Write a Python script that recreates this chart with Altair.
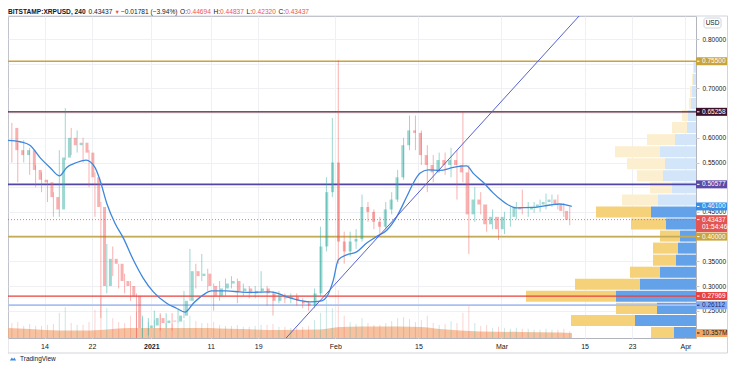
import altair as alt
import pandas as pd

FONT = "Liberation Sans"
W, H = 688, 322
Y_MIN, Y_MAX = 0.19474, 0.84656
PX = H / (Y_MAX - Y_MIN)          # pixels per price unit
VOL_MAX = 665.0                   # volume scale top (M)
X_DOMAIN = [alt.DateTime(year=2020, month=12, date=7, hours=20, minutes=24),
            alt.DateTime(year=2021, month=4, date=2, hours=18, minutes=32)]
AX = 31                           # width of the price-scale column

# ---------------- data ----------------
first_open = 0.62
closes = [0.575, 0.565, 0.575, 0.535, 0.515, 0.51, 0.48, 0.455, 0.56, 0.60,
          0.585, 0.59, 0.57, 0.52, 0.46, 0.30, 0.355, 0.345, 0.31, 0.30,
          0.28, 0.215, 0.215, 0.22, 0.235, 0.225, 0.23, 0.228, 0.24, 0.27,
          0.33, 0.32, 0.325, 0.30, 0.28, 0.295, 0.305, 0.31, 0.29, 0.295,
          0.285, 0.29, 0.295, 0.285, 0.27, 0.28, 0.275, 0.278, 0.27, 0.265,
          0.26, 0.285, 0.38, 0.49, 0.55, 0.39, 0.37, 0.39, 0.395, 0.46,
          0.45, 0.43, 0.42, 0.455, 0.475, 0.52, 0.585, 0.615, 0.61, 0.565,
          0.545, 0.53, 0.555, 0.545, 0.555, 0.545, 0.53, 0.445, 0.475, 0.465,
          0.425, 0.44, 0.415, 0.44, 0.44, 0.46, 0.455, 0.455, 0.46, 0.465,
          0.47, 0.475, 0.465, 0.452, 0.434]
highs = [0.63, 0.59, 0.595, 0.58, 0.545, 0.53, 0.515, 0.49, 0.575, 0.66,
         0.62, 0.615, 0.60, 0.575, 0.53, 0.47, 0.385, 0.38, 0.34, 0.325,
         0.31, 0.285, 0.24, 0.235, 0.25, 0.245, 0.245, 0.245, 0.255, 0.29,
         0.375, 0.345, 0.365, 0.335, 0.305, 0.31, 0.315, 0.32, 0.315, 0.305,
         0.30, 0.30, 0.33, 0.30, 0.29, 0.29, 0.285, 0.285, 0.285, 0.275,
         0.27, 0.295, 0.42, 0.52, 0.64, 0.757, 0.41, 0.41, 0.415, 0.485,
         0.47, 0.455, 0.44, 0.47, 0.49, 0.535, 0.60, 0.645, 0.645, 0.615,
         0.585, 0.565, 0.57, 0.57, 0.58, 0.575, 0.652, 0.545, 0.50, 0.49,
         0.465, 0.455, 0.44, 0.45, 0.46, 0.47, 0.495, 0.47, 0.47, 0.475,
         0.487, 0.485, 0.485, 0.468, 0.46]
lows = [0.55, 0.51, 0.55, 0.525, 0.50, 0.49, 0.47, 0.44, 0.44, 0.555,
        0.565, 0.57, 0.55, 0.50, 0.44, 0.235, 0.285, 0.32, 0.295, 0.285,
        0.27, 0.18, 0.195, 0.20, 0.215, 0.21, 0.215, 0.21, 0.225, 0.235,
        0.27, 0.295, 0.31, 0.29, 0.25, 0.27, 0.28, 0.295, 0.265, 0.28,
        0.275, 0.275, 0.285, 0.26, 0.24, 0.265, 0.265, 0.265, 0.26, 0.255,
        0.25, 0.255, 0.28, 0.37, 0.48, 0.345, 0.345, 0.36, 0.375, 0.39,
        0.43, 0.415, 0.40, 0.415, 0.445, 0.47, 0.515, 0.575, 0.575, 0.545,
        0.49, 0.51, 0.53, 0.525, 0.52, 0.475, 0.51, 0.365, 0.43, 0.445,
        0.41, 0.415, 0.393, 0.405, 0.42, 0.435, 0.445, 0.44, 0.448, 0.45,
        0.455, 0.46, 0.455, 0.44, 0.423]
volumes = [31, 33, 25, 29, 25, 25, 27, 29, 52, 64,
           31, 27, 27, 33, 58, 83, 62, 41, 33, 31,
           46, 54, 41, 33, 37, 48, 31, 29, 31, 37,
           46, 35, 31, 31, 33, 27, 25, 25, 27, 23,
           23, 25, 27, 27, 29, 23, 23, 21, 21, 23,
           25, 37, 52, 79, 62, 99, 46, 33, 29, 41,
           31, 27, 27, 31, 35, 41, 43, 39, 33, 37,
           46, 31, 27, 29, 35, 31, 52, 68, 31, 25,
           27, 21, 23, 21, 19, 21, 19, 19, 17, 17,
           19, 17, 17, 19, 14]

ma_dates = ["2020-12-07T20:00:00", "2020-12-09T21:00:00", "2020-12-11T13:00:00", "2020-12-13T06:00:00",
            "2020-12-14T22:00:00", "2020-12-16T12:00:00", "2020-12-17T18:00:00", "2020-12-19T10:00:00",
            "2020-12-21T00:00:00", "2020-12-22T12:00:00", "2020-12-23T08:00:00", "2020-12-24T12:00:00",
            "2020-12-25T21:00:00", "2020-12-27T07:00:00", "2020-12-28T23:00:00", "2020-12-30T15:00:00",
            "2021-01-01T08:00:00", "2021-01-03T14:00:00", "2021-01-05T06:00:00", "2021-01-06T16:00:00",
            "2021-01-08T02:00:00", "2021-01-09T18:00:00", "2021-01-11T04:00:00", "2021-01-13T17:00:00",
            "2021-01-15T22:00:00", "2021-01-17T15:00:00", "2021-01-21T00:00:00", "2021-01-24T09:00:00",
            "2021-01-27T18:00:00", "2021-01-29T17:00:00", "2021-01-30T13:00:00", "2021-01-31T16:00:00",
            "2021-02-01T12:00:00", "2021-02-02T22:00:00", "2021-02-04T14:00:00", "2021-02-06T07:00:00",
            "2021-02-07T23:00:00", "2021-02-09T16:00:00", "2021-02-11T08:00:00", "2021-02-13T00:00:00",
            "2021-02-14T03:00:00", "2021-02-15T06:00:00", "2021-02-16T16:00:00", "2021-02-18T15:00:00",
            "2021-02-20T21:00:00", "2021-02-23T03:00:00", "2021-02-24T06:00:00", "2021-02-25T22:00:00",
            "2021-02-27T15:00:00", "2021-02-28T18:00:00", "2021-03-01T21:00:00", "2021-03-03T13:00:00",
            "2021-03-06T08:00:00", "2021-03-09T04:00:00", "2021-03-10T20:00:00", "2021-03-12T20:00:00"]
ma_values = [0.595, 0.592, 0.585, 0.560, 0.540, 0.523, 0.540, 0.550,
             0.555, 0.540, 0.515, 0.467, 0.427, 0.397, 0.353, 0.316,
             0.288, 0.265, 0.255, 0.247, 0.265, 0.282, 0.290, 0.290,
             0.288, 0.287, 0.288, 0.276, 0.268, 0.270, 0.278, 0.312,
             0.353, 0.363, 0.369, 0.387, 0.400, 0.413, 0.440, 0.480,
             0.508, 0.528, 0.535, 0.534, 0.540, 0.543, 0.528, 0.510,
             0.488, 0.476, 0.466, 0.458, 0.459, 0.464, 0.466, 0.461]

volma_dates = ["2020-12-07T20:00:00", "2020-12-11T13:00:00", "2020-12-16T15:00:00", "2020-12-21T16:00:00",
               "2020-12-23T08:00:00", "2020-12-28T10:00:00", "2021-01-04T03:00:00", "2021-01-09T05:00:00",
               "2021-01-15T22:00:00", "2021-01-22T16:00:00", "2021-01-29T10:00:00", "2021-02-01T19:00:00",
               "2021-02-08T13:00:00", "2021-02-15T06:00:00", "2021-02-18T15:00:00", "2021-02-25T09:00:00",
               "2021-03-04T03:00:00", "2021-03-10T20:00:00", "2021-03-12T21:00:00"]
volma_values = [20.7, 18.6, 15.5, 15.5, 16.6, 20.7, 20.7, 20.7, 18.6, 16.6,
                17.6, 22.8, 23.8, 22.8, 18.6, 13.5, 12.4, 11.4, 10.357]

trend_dates = ["2021-01-23T08:30:00", "2021-03-16T00:00:00"]
trend_values = [0.190, 0.872]

level_prices = [0.755, 0.65258, 0.50577, 0.40, 0.27969, 0.26112]
label_prices = [0.755, 0.65258, 0.50577, 0.461, 0.43437, 0.40, 0.27969, 0.26112]
label_texts = ["0.75500", "0.65258", "0.50577", "0.46100", "0.43437", "0.40000", "0.27969", "0.26112"]
last_price = 0.43437
countdown = "01:54:46"
last_volume = 10.357
last_volume_text = "10.357M"

# volume profile rows (price bins) and volumes (up / down parts)
vp_price_lo = [0.1947, 0.2191, 0.2435, 0.2679, 0.2923, 0.3167, 0.3411, 0.3655, 0.3899, 0.4143,
               0.4387, 0.4631, 0.4875, 0.5119, 0.5363, 0.5607, 0.5851, 0.6095, 0.6339, 0.6583,
               0.6827, 0.7071, 0.7315]
vp_step = 0.0244
vp_blue = [22, 61, 39, 80, 56, 36, 20, 18, 16, 30, 45, 38, 24, 33, 31, 36, 21, 9, 8, 5, 4, 3, 2]
vp_yellow = [23, 64, 41, 90, 65, 30, 23, 25, 20, 35, 55, 36, 22, 26, 38, 45, 28, 15, 6, 2, 2, 1, 1]
vp_value_area_top = 0.4631

x_tick_dates = [(2020, 12, 14), (2020, 12, 22), (2021, 1, 1), (2021, 1, 11), (2021, 1, 19),
                (2021, 2, 1), (2021, 2, 15), (2021, 3, 1), (2021, 3, 15), (2021, 3, 23), (2021, 4, 1)]
y_ticks = [0.25, 0.30, 0.35, 0.40, 0.45, 0.50, 0.55, 0.60, 0.65, 0.70, 0.75, 0.80]

# ---------------- styles ----------------
UP, DOWN = "#26a69a", "#ef5350"
level_colors = ["#c9a43d", "#4a1a35", "#5046a8", "#c4ab57", "#e8403c", "#a9c1f2"]
level_widths = [1.3, 1.3, 1.8, 1.8, 1.3, 1.8]
label_fills = ["#c9a43d", "#3b1028", "#5b4aa8", "#3a8ee6", "#e35552", "#c9a43d", "#e8403c", "#86aaf0"]
label_tcolors = ["white", "white", "white", "white", "white", "white", "white", "#1c2a6b"]

# ---------------- tables ----------------
dates = pd.date_range("2020-12-08 12:00", periods=len(closes), freq="D").strftime("%Y-%m-%dT%H:%M:%S")
opens = [first_open] + closes[:-1]
candles = pd.DataFrame({
    "t": list(dates), "open": opens, "close": closes,
    "high": [max(h, o, c) for h, o, c in zip(highs, opens, closes)],
    "low": [min(l, o, c) for l, o, c in zip(lows, opens, closes)],
    "vol": volumes,
})
candles["col"] = [UP if c >= o else DOWN for o, c in zip(opens, closes)]
candles["zero"] = 0.0

ma = pd.DataFrame({"t": ma_dates, "v": ma_values})
volma = pd.DataFrame({"t": volma_dates, "v": volma_values})
trend = pd.DataFrame({"t": trend_dates, "v": trend_values})
levels = pd.DataFrame({"p": level_prices, "col": level_colors, "w": level_widths})

gap = 1.0 / PX
vp_rows = []
for lo, b, yv in zip(vp_price_lo, vp_blue, vp_yellow):
    va = lo < vp_value_area_top - 1e-6
    vp_rows.append({"lo": lo, "hi": lo + vp_step - gap, "x0": 0, "x1": b,
                    "col": "#63a1e8" if va else "#d3e5f8"})
    vp_rows.append({"lo": lo, "hi": lo + vp_step - gap, "x0": b, "x1": b + yv,
                    "col": "#f5d27a" if va else "#fcefd0"})
vp = pd.DataFrame(vp_rows)

labels = pd.DataFrame({"p": label_prices, "txt": label_texts, "fill": label_fills, "tc": label_tcolors})
labels["top"] = labels["p"] + 4.0 / PX
labels["bot"] = labels["p"] - 4.0 / PX
labels.loc[labels["txt"] == "0.43437", "top"] = last_price + 4.5 / PX
labels.loc[labels["txt"] == "0.43437", "bot"] = last_price - 12.5 / PX

vlab = pd.DataFrame({"v": [last_volume], "txt": [last_volume_text],
                     "top": [last_volume + 4 * (VOL_MAX / H)], "bot": [last_volume - 4 * (VOL_MAX / H)]})

# ---------------- encodings ----------------
def X(field, axis=None):
    return alt.X(field, type="temporal", scale=alt.Scale(domain=X_DOMAIN), axis=axis)

def Y(field, axis=None):
    return alt.Y(field, type="quantitative", scale=alt.Scale(domain=[Y_MIN, Y_MAX]), axis=axis)

def YV(field):
    return alt.Y(field, type="quantitative", scale=alt.Scale(domain=[0, VOL_MAX]), axis=None)

x_axis = alt.Axis(
    values=[alt.DateTime(year=y, month=m, date=d) for y, m, d in x_tick_dates],
    labelExpr="date(datum.value) == 1 ? (month(datum.value) == 0 ? timeFormat(datum.value, '%Y') : timeFormat(datum.value, '%b')) : '' + date(datum.value)",
    labelFontWeight={"condition": {"test": "month(datum.value) == 0 && date(datum.value) == 1", "value": "bold"}, "value": "normal"},
    grid=True, gridColor="#eef0f4", gridWidth=1, ticks=False, domain=False,
    labelFont=FONT, labelFontSize=7, labelColor="#131722", labelPadding=4.5,
    labelFlush=False, labelOverlap=False, title=None)
y_axis = alt.Axis(
    orient="right", values=y_ticks,
    labelExpr="(abs(datum.value-0.5)<0.001 || abs(datum.value-0.65)<0.001 || abs(datum.value-0.4)<0.001 || abs(datum.value-0.75)<0.001) ? '' : format(datum.value, '.5f')",
    grid=True, gridColor="#eef0f4", gridWidth=1, tickSize=3, tickColor="#c5c8cf", domain=False,
    labelFont=FONT, labelFontSize=6.5, labelColor="#131722", labelPadding=3,
    labelFlush=False, labelOverlap=False, title=None)

one = pd.DataFrame({"a": [1]})

def txt(s, x, y, color="#131722", size=6.6, weight="normal", align="left"):
    return alt.Chart(pd.DataFrame({"s": [s]})).mark_text(
        align=align, baseline="middle", font=FONT, fontSize=size, fontWeight=weight, color=color
    ).encode(x=alt.value(x), y=alt.value(y), text="s:N")

# ---------------- layers ----------------
frame = alt.Chart(one).mark_rect(filled=False, color="#d1d4dc", strokeWidth=1).encode(
    x=alt.value(0), x2=alt.value(W + AX + 0.5), y=alt.value(0), y2=alt.value(H + 15))

vol_area = alt.Chart(volma).mark_area(color="#f2a878", opacity=0.7, interpolate="monotone", clip=True).encode(
    x=X("t"), y=YV("v"))
vol_spikes = alt.Chart(candles).mark_rule(strokeWidth=1, opacity=0.25, clip=True).encode(
    x=X("t"), y=YV("vol"), y2="zero:Q", color=alt.Color("col:N", scale=None))

vp_layer = alt.Chart(vp).mark_rect(clip=True).encode(
    x=alt.X("x0:Q", scale=alt.Scale(domain=[0, W], reverse=True), axis=None), x2="x1:Q",
    y=Y("lo"), y2="hi:Q", color=alt.Color("col:N", scale=None))

level_layer = alt.Chart(levels).mark_rule().encode(
    y=Y("p"), color=alt.Color("col:N", scale=None), size=alt.Size("w:Q", scale=None))
cur_line = alt.Chart(pd.DataFrame({"p": [last_price]})).mark_rule(
    color=DOWN, strokeDash=[1, 2], strokeWidth=1, opacity=0.8).encode(y=Y("p"))

wicks = alt.Chart(candles).mark_rule(strokeWidth=1, opacity=0.45, clip=True).encode(
    x=X("t", x_axis), y=Y("low", y_axis), y2="high:Q", color=alt.Color("col:N", scale=None))
bodies = alt.Chart(candles).mark_bar(size=3, opacity=0.45, clip=True).encode(
    x=X("t"), y=Y("open"), y2="close:Q", color=alt.Color("col:N", scale=None))

ma_line = alt.Chart(ma).mark_line(color="#3d87dc", strokeWidth=1.3, interpolate="monotone", clip=True).encode(
    x=X("t"), y=Y("v"))
trend_line = alt.Chart(trend).mark_line(color="#5561cf", strokeWidth=1, clip=True).encode(
    x=X("t"), y=Y("v"))

lab_rects = alt.Chart(labels).mark_rect().encode(
    x=alt.value(W), x2=alt.value(W + AX), y=Y("top"), y2="bot:Q", color=alt.Color("fill:N", scale=None))
lab_ticks = alt.Chart(labels).mark_rule(strokeWidth=1).encode(
    x=alt.value(W + 1), x2=alt.value(W + 3.5), y=Y("p"), color=alt.Color("tc:N", scale=None))
lab_texts = alt.Chart(labels).mark_text(align="left", baseline="middle", font=FONT, fontSize=6.5).encode(
    x=alt.value(W + 6), y=Y("p"), text="txt:N", color=alt.Color("tc:N", scale=None))
cd_text = alt.Chart(pd.DataFrame({"p": [last_price], "s": [countdown]})).mark_text(
    align="left", baseline="middle", font=FONT, fontSize=6.5, color="white", dy=7.5).encode(
    x=alt.value(W + 6), y=Y("p"), text="s:N")

vlab_rect = alt.Chart(vlab).mark_rect(color="#f3a765").encode(
    x=alt.value(W), x2=alt.value(W + AX), y=YV("top"), y2="bot:Q")
vlab_tick = alt.Chart(vlab).mark_rule(strokeWidth=1, color="#131722").encode(
    x=alt.value(W + 1), x2=alt.value(W + 3.5), y=YV("v"))
vlab_text = alt.Chart(vlab).mark_text(align="left", baseline="middle", font=FONT, fontSize=6.5,
                                      color="#131722").encode(x=alt.value(W + 6), y=YV("v"), text="txt:N")

usd_box = alt.Chart(one).mark_rect(filled=False, color="#d1d4dc", strokeWidth=1, cornerRadius=2).encode(
    x=alt.value(W + 8), x2=alt.value(W + 25), y=alt.value(2), y2=alt.value(12))
usd_text = txt("USD", W + 16.5, 7, size=6.5, align="center")

RED = "#ef5350"
TY = -4
title_parts = [
    txt("BITSTAMP:XRPUSD, 240", 0, TY, weight="bold"),
    txt("0.43437", 80.5, TY),
    txt("▼", 106.5, TY, color=RED, size=5.5),
    txt("−0.01781 (−3.94%)", 113, TY),
    txt("O:", 172, TY), txt("0.44694", 179, TY, color=RED),
    txt("H:", 205.5, TY), txt("0.44837", 212.1, TY, color=RED),
    txt("L:", 238.6, TY), txt("0.42320", 244.1, TY, color=RED),
    txt("C:", 270.6, TY), txt("0.43437", 277.2, TY, color=RED),
]

logo_icon = alt.Chart(one).mark_point(
    shape="M -1 0.5 L -0.35 -0.45 L 0.05 0.1 L 0.4 -0.5 L 1 0.5 Z",
    filled=True, color="#3b8ad9", size=40, opacity=1).encode(x=alt.value(5), y=alt.value(H + 21))
logo_text = txt("TradingView", 12, H + 21, size=6.5)

chart = alt.layer(
    frame, vol_area, vol_spikes, vp_layer, level_layer, cur_line, wicks, bodies, ma_line, trend_line,
    lab_rects, lab_ticks, lab_texts, cd_text, vlab_rect, vlab_tick, vlab_text, usd_box, usd_text,
    *title_parts, logo_icon, logo_text
).resolve_scale(x="independent", y="independent").properties(
    width=W, height=H,
    padding={"left": 0, "top": 8, "right": AX + 1, "bottom": 25},
    autosize=alt.AutoSizeParams(type="none"),
    background="white",
).configure_view(stroke="#b2b5be", strokeWidth=1)

chart.save("out.html", embed_options={"renderer": "svg", "actions": False})
